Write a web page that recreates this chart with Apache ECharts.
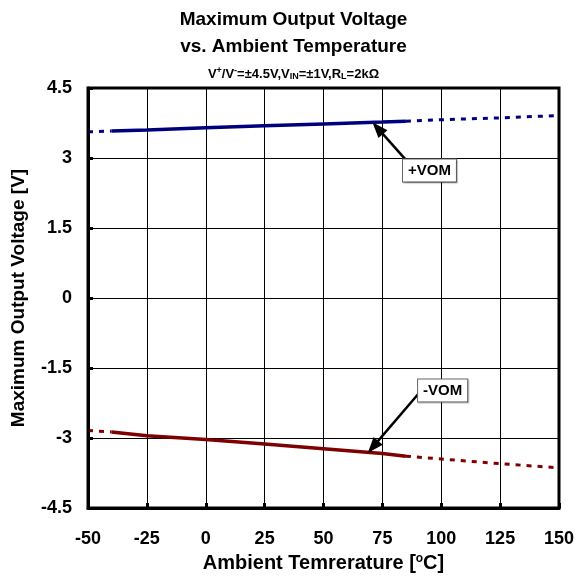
<!DOCTYPE html>
<html>
<head>
<meta charset="utf-8">
<script src="https://cdn.jsdelivr.net/npm/echarts@6/dist/echarts.min.js"></script>
<style>html,body{margin:0;padding:0;background:#fff;}#c{width:587px;height:585px;}</style>
</head>
<body>
<div id="c"></div>
<script>
// Data
const xTicks = [-50, -25, 0, 25, 50, 75, 100, 125, 150];
const yTicks = [-4.5, -3, -1.5, 0, 1.5, 3, 4.5];
const tempSolid = [-40, -25, 0, 25, 50, 75, 85];
const posVomSolid = [3.58, 3.60, 3.65, 3.69, 3.73, 3.77, 3.79];
const negVomSolid = [-2.87, -2.95, -3.03, -3.13, -3.23, -3.33, -3.39];
const tempExtLow = [-50, -40];
const posVomExtLow = [3.56, 3.58];
const negVomExtLow = [-2.84, -2.87];
const tempExtHigh = [85, 100, 125, 150];
const posVomExtHigh = [3.79, 3.82, 3.86, 3.91];
const negVomExtHigh = [-3.39, -3.45, -3.55, -3.64];
const labels = ['+VOM', '-VOM'];

const zip = (xs, ys) => xs.map((x, i) => [x, ys[i]]);
const font = 'Arial, "Liberation Sans", Helvetica, sans-serif';
const navy = '#00007f';
const maroon = '#7f0000';

const chart = echarts.init(document.getElementById('c'), null, {renderer: 'canvas'});
const solidLine = (name, data, color, extra) => Object.assign({
  name, type: 'line', data, symbol: 'none', smooth: false,
  lineStyle: {color, width: 3.5}, z: 3
}, extra || {});
const dashLine = (name, data, color) => ({
  name, type: 'line', data, symbol: 'none',
  lineStyle: {color, width: 3, type: [5, 6]}, z: 3
});
const boxLabel = (text) => ({
  show: true, formatter: text, color: '#000', fontFamily: font,
  fontWeight: 'bold', fontSize: 15,
  backgroundColor: '#fff', borderColor: '#666', borderWidth: 1,
  padding: [4, 5, 3, 5], shadowColor: 'rgba(0,0,0,0.25)', shadowOffsetX: 1, shadowOffsetY: 1, shadowBlur: 1
});
const arrowLine = (from, to) => ({
  silent: true, symbol: ['none', 'triangle'], symbolSize: [12, 16],
  lineStyle: {color: '#000', width: 2.5, type: 'solid'},
  itemStyle: {color: '#000'},
  label: {show: false},
  data: [[{coord: from, symbol: 'none'}, {coord: to, symbol: 'triangle', symbolSize: [12, 16]}]]
});

chart.setOption({
  animation: false,
  backgroundColor: '#fff',
  title: [{
    text: 'Maximum Output Voltage\nvs. Ambient Temperature',
    left: 'center', top: 1,
    textStyle: {fontFamily: font, fontWeight: 'bold', fontSize: 19, lineHeight: 27, color: '#000'}
  }, {
    text: '{n|V}{sup|+}{n|/V}{sup|-}{n|=±4.5V,V}{sub|IN}{n|=±1V,R}{sub|L}{n|=2kΩ}',
    left: 'center', top: 61,
    textStyle: {
      rich: {
        n: {fontFamily: font, fontWeight: 'bold', fontSize: 13, color: '#000', lineHeight: 16, verticalAlign: 'middle'},
        sup: {fontFamily: font, fontWeight: 'bold', fontSize: 9, color: '#000', lineHeight: 16, padding: [0, 0, 7, 0], verticalAlign: 'middle'},
        sub: {fontFamily: font, fontWeight: 'bold', fontSize: 9, color: '#000', lineHeight: 16, padding: [6, 0, 0, 0], verticalAlign: 'middle'}
      }
    }
  }],
  grid: {left: 88, right: 28, top: 88, bottom: 77, show: true, borderColor: '#000', borderWidth: 3, backgroundColor: 'transparent', z: 5},
  xAxis: {
    type: 'value', min: xTicks[0], max: xTicks[xTicks.length - 1], interval: 25,
    name: '{n|Ambient Temrerature [}{s|o}{n|C]}',
    nameLocation: 'middle', nameGap: 32,
    nameTextStyle: {
      rich: {
        n: {fontFamily: font, fontWeight: 'bold', fontSize: 20, color: '#000', lineHeight: 22},
        s: {fontFamily: font, fontWeight: 'bold', fontSize: 12, color: '#000', lineHeight: 22, padding: [0, 0, 10, 0]}
      }
    },
    axisLine: {show: true, onZero: false, lineStyle: {color: '#000', width: 3}},
    axisTick: {show: true, inside: true, length: 5, lineStyle: {color: '#000', width: 3}},
    axisLabel: {color: '#000', fontFamily: font, fontWeight: 'bold', fontSize: 18, margin: 22,
      formatter: v => xTicks.includes(v) ? String(v) : ''},
    splitLine: {show: true, lineStyle: {color: '#000', width: 1}}
  },
  yAxis: {
    type: 'value', min: yTicks[0], max: yTicks[yTicks.length - 1], interval: 1.5,
    name: 'Maximum Output Voltage [V]',
    nameLocation: 'middle', nameGap: 60,
    nameTextStyle: {fontFamily: font, fontWeight: 'bold', fontSize: 19, color: '#000'},
    axisLine: {show: true, onZero: false, lineStyle: {color: '#000', width: 3}},
    axisTick: {show: true, inside: true, length: 5, lineStyle: {color: '#000', width: 3}},
    axisLabel: {color: '#000', fontFamily: font, fontWeight: 'bold', fontSize: 18, margin: 16,
      formatter: v => yTicks.includes(v) ? String(v) : ''},
    splitLine: {show: true, lineStyle: {color: '#000', width: 1}}
  },
  series: [
    dashLine('pLow', zip(tempExtLow, posVomExtLow), navy),
    dashLine('pHigh', zip(tempExtHigh, posVomExtHigh), navy),
    dashLine('nLow', zip(tempExtLow, negVomExtLow), maroon),
    dashLine('nHigh', zip(tempExtHigh, negVomExtHigh), maroon),
    solidLine('+VOM', zip(tempSolid, posVomSolid), navy, {
      markLine: arrowLine([84.6, 2.98], [73.0, 3.64]),
      markPoint: {
        silent: true, symbol: 'rect', symbolSize: 1, itemStyle: {color: 'transparent'},
        label: Object.assign(boxLabel(labels[0]), {position: 'inside'}),
        data: [{coord: [95.0, 2.73]}]
      }
    }),
    solidLine('-VOM', zip(tempSolid, negVomSolid), maroon, {
      markLine: arrowLine([90.5, -2.04], [71.0, -3.19]),
      markPoint: {
        silent: true, symbol: 'rect', symbolSize: 1, itemStyle: {color: 'transparent'},
        label: Object.assign(boxLabel(labels[1]), {position: 'inside'}),
        data: [{coord: [100.6, -1.98]}]
      }
    })
  ]
});
</script>
</body>
</html>
